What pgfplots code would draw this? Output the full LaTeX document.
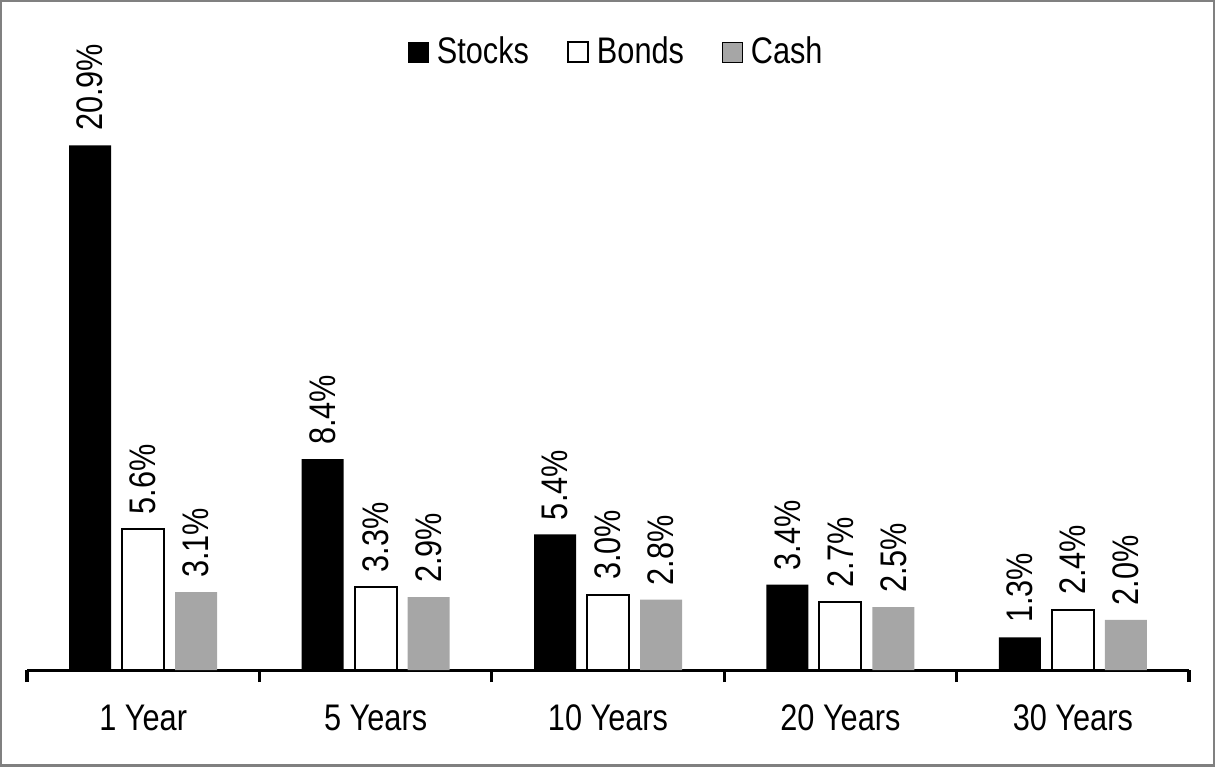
\documentclass[border=0pt]{standalone}
\usepackage{pgfplots}
\pgfplotsset{compat=1.18}
\usepackage{fontspec}
\setmainfont{Liberation Sans}[FakeStretch=0.83]
\definecolor{cashgray}{HTML}{A6A6A6}
\definecolor{framegray}{HTML}{808080}
\newcommand{\chartfont}{\fontsize{18.5pt}{22pt}\selectfont}

\begin{document}
\begin{tikzpicture}
\useasboundingbox (0,0) rectangle (607.5pt,383pt);
\begin{axis}[
    at={(13.5pt,48pt)}, anchor=south west,
    scale only axis, width=581pt, height=332.6pt,
    xmin=-0.5, xmax=4.5, ymin=0, ymax=26.5,
    clip=false,
    axis y line=none, axis x line*=bottom,
    x axis line style={line width=1.5pt, black},
    xtick={-0.5,0.5,1.5,2.5,3.5,4.5},
    x tick label as interval,
    xticklabels={1 Year,5 Years,10 Years,20 Years,30 Years},
    tick align=outside, major tick length=6pt,
    xtick style={line width=1.6pt, black},
    x tick label style={font=\chartfont, yshift=-8pt},
    ybar=5.5pt, bar width=21pt,
    /pgf/number format/assume math mode=true,
    nodes near coords={\pgfmathprintnumber[fixed,fixed zerofill,precision=1]{\pgfplotspointmeta}\%},
    every node near coord/.append style={rotate=90, anchor=west, inner sep=0pt, xshift=7pt,
        font=\chartfont, black},
    legend style={at={(0.508,0.929)}, anchor=center, draw=none, fill=none,
        legend columns=-1, font=\chartfont,
        /tikz/every odd column/.append style={column sep=2pt},
        /tikz/every even column/.append style={column sep=17pt}},
    legend image code/.code={\draw[#1] (0pt,-5pt) rectangle (10pt,5pt);},
  ]
  \addplot[fill=black, draw=none] coordinates {(0,20.9) (1,8.4) (2,5.4) (3,3.4) (4,1.3)};
  \addplot[fill=white, draw=black, line width=1pt] coordinates {(0,5.6) (1,3.3) (2,3.0) (3,2.7) (4,2.4)};
  \addplot[fill=cashgray, draw=none] coordinates {(0,3.1) (1,2.9) (2,2.8) (3,2.5) (4,2.0)};
  \legend{Stocks,Bonds,Cash}
\end{axis}
\draw[line width=2pt, framegray] (0,0) rectangle (607.5pt,383pt);
\end{tikzpicture}
\end{document}
